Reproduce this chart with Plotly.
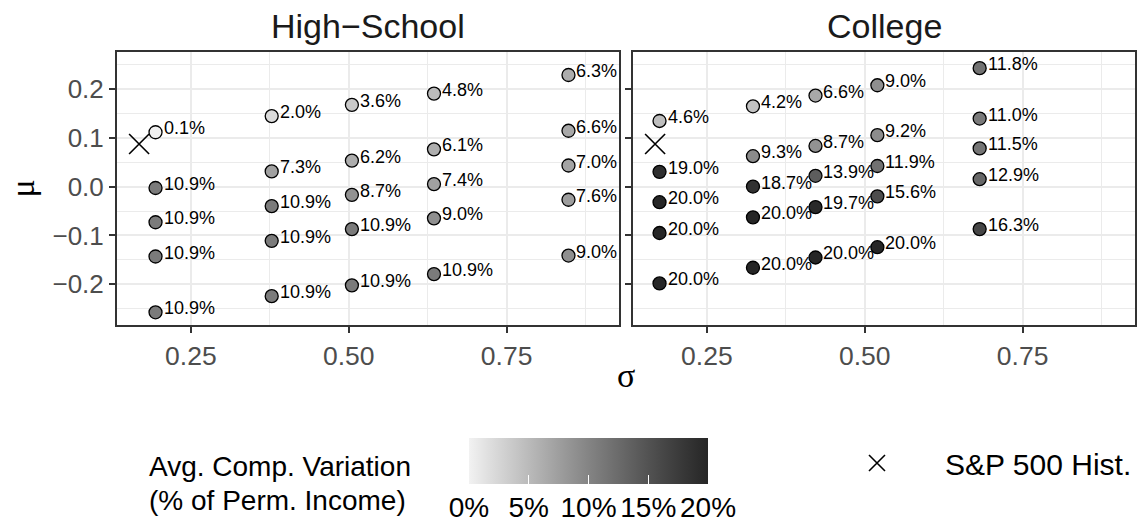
import plotly.graph_objects as go

# ---------------- data ----------------
hs_sigma = [0.194, 0.194, 0.194, 0.194, 0.194,
            0.378, 0.378, 0.378, 0.378, 0.378,
            0.505, 0.505, 0.505, 0.505, 0.505,
            0.635, 0.635, 0.635, 0.635, 0.635,
            0.848, 0.848, 0.848, 0.848, 0.848]
hs_mu = [0.111, -0.003, -0.073, -0.143, -0.257,
         0.144, 0.031, -0.040, -0.111, -0.224,
         0.167, 0.053, -0.017, -0.087, -0.202,
         0.190, 0.076, 0.005, -0.065, -0.179,
         0.228, 0.114, 0.043, -0.027, -0.141]
hs_var = [0.1, 10.9, 10.9, 10.9, 10.9,
          2.0, 7.3, 10.9, 10.9, 10.9,
          3.6, 6.2, 8.7, 10.9, 10.9,
          4.8, 6.1, 7.4, 9.0, 10.9,
          6.3, 6.6, 7.0, 7.6, 9.0]

col_sigma = [0.175, 0.175, 0.175, 0.175, 0.175,
             0.323, 0.323, 0.323, 0.323, 0.323,
             0.422, 0.422, 0.422, 0.422, 0.422,
             0.520, 0.520, 0.520, 0.520, 0.520,
             0.682, 0.682, 0.682, 0.682, 0.682]
col_mu = [0.134, 0.030, -0.032, -0.095, -0.198,
          0.164, 0.062, 0.000, -0.063, -0.166,
          0.186, 0.083, 0.022, -0.042, -0.145,
          0.207, 0.105, 0.042, -0.020, -0.124,
          0.242, 0.139, 0.078, 0.015, -0.087]
col_var = [4.6, 19.0, 20.0, 20.0, 20.0,
           4.2, 9.3, 18.7, 20.0, 20.0,
           6.6, 8.7, 13.9, 19.7, 20.0,
           9.0, 9.2, 11.9, 15.6, 20.0,
           11.8, 11.0, 11.5, 12.9, 16.3]

sp_sigma = [0.168]
sp_mu = [0.087]

panel_titles = ["High\u2212School", "College"]
cbar_ticks = [0, 5, 10, 15, 20]
cbar_labels = ["0%", "5%", "10%", "15%", "20%"]
x_ticks = [0.25, 0.50, 0.75]
y_ticks = [-0.2, -0.1, 0.0, 0.1, 0.2]

# ---------------- style helpers ----------------
FONT = "Liberation Sans, Arial, sans-serif"
SERIF = "Liberation Serif, DejaVu Serif, serif"
W, H = 1143, 524


def srgb_to_L(v):
    c = v / 255.0
    lin = c / 12.92 if c <= 0.04045 else ((c + 0.055) / 1.055) ** 2.4
    return 116 * lin ** (1 / 3) - 16 if lin > 0.008856 else 903.3 * lin


def L_to_hex(L):
    Y = ((L + 16) / 116) ** 3 if L > 8 else L / 903.3
    c = 12.92 * Y if Y <= 0.0031308 else 1.055 * Y ** (1 / 2.4) - 0.055
    g = max(0, min(255, round(c * 255)))
    return "#%02x%02x%02x" % (g, g, g)


L_lo, L_hi = srgb_to_L(242), srgb_to_L(38)
colorscale = [[i / 10, L_to_hex(L_lo + (L_hi - L_lo) * i / 10)] for i in range(11)]

fig = go.Figure()

panels = [(hs_sigma, hs_mu, hs_var, "x", "y", "coloraxis"),
          (col_sigma, col_mu, col_var, "x2", "y2", "coloraxis2")]
annotations = []
for idx, (sx, my, vv, xa, ya, cax) in enumerate(panels):
    fig.add_trace(go.Scatter(
        x=sx, y=my, mode="markers", xaxis=xa, yaxis=ya, showlegend=False,
        marker=dict(size=13, color=vv, coloraxis=cax,
                    line=dict(color="black", width=1.3)),
        hoverinfo="skip"))
    fig.add_trace(go.Scatter(
        x=sp_sigma, y=sp_mu, mode="markers", xaxis=xa, yaxis=ya,
        name="S&P 500 Hist.", legendgroup="sp", showlegend=(idx == 0),
        marker=dict(symbol="x-thin", size=20, color="black",
                    line=dict(color="black", width=1.6)),
        hoverinfo="skip"))
    for x, y, v in zip(sx, my, vv):
        annotations.append(dict(
            x=x, y=y, xref=xa, yref=ya, text=f"{v:.1f}%", showarrow=False,
            xanchor="left", yanchor="middle", xshift=6, yshift=4,
            font=dict(family=FONT, size=18, color="black")))

dom_x1 = [117 / W, 619 / W]
dom_x2 = [633 / W, 1135 / W]
dom_y = [(H - 325) / H, (H - 52) / H]

# strip titles
for dom, title in zip([dom_x1, dom_x2], panel_titles):
    annotations.append(dict(
        x=(dom[0] + dom[1]) / 2, y=(H - 26) / H, xref="paper", yref="paper",
        text=title, showarrow=False, xanchor="center", yanchor="middle",
        font=dict(family=FONT, size=34, color="#1a1a1a")))

# axis titles
annotations.append(dict(x=(dom_x1[0] + dom_x2[1]) / 2, y=(H - 375) / H,
                        xref="paper", yref="paper", text="\u03c3", showarrow=False,
                        xanchor="center", yanchor="middle",
                        font=dict(family=SERIF, size=34, color="black")))
annotations.append(dict(x=22 / W, y=(dom_y[0] + dom_y[1]) / 2,
                        xref="paper", yref="paper", text="\u03bc", showarrow=False,
                        textangle=-90, xanchor="center", yanchor="middle",
                        font=dict(family=SERIF, size=34, color="black")))

# legend title (two lines)
annotations.append(dict(x=147 / W, y=(H - 466) / H, xref="paper", yref="paper",
                        text="Avg. Comp. Variation", showarrow=False,
                        xanchor="left", yanchor="middle",
                        font=dict(family=FONT, size=28, color="black")))
annotations.append(dict(x=147 / W, y=(H - 500) / H, xref="paper", yref="paper",
                        text="(% of Perm. Income)", showarrow=False,
                        xanchor="left", yanchor="middle",
                        font=dict(family=FONT, size=28, color="black")))

axis_common = dict(
    range=[0.133, 0.928], tickvals=x_ticks, tickformat=".2f",
    showgrid=True, gridcolor="#ebebeb", gridwidth=2,
    minor=dict(dtick=0.125, tick0=0, showgrid=True, gridcolor="#ebebeb", gridwidth=1),
    zeroline=False, showline=True, mirror=True, linecolor="#333333", linewidth=2,
    ticks="outside", ticklen=6, tickwidth=1.5, tickcolor="#333333",
    tickfont=dict(family=FONT, size=26.5, color="#4d4d4d"))
yaxis_common = dict(
    range=[-0.283, 0.275], tickvals=y_ticks, tickformat=".1f",
    showgrid=True, gridcolor="#ebebeb", gridwidth=2,
    minor=dict(dtick=0.05, tick0=0, showgrid=True, gridcolor="#ebebeb", gridwidth=1),
    zeroline=False, showline=True, mirror=True, linecolor="#333333", linewidth=2,
    ticks="outside", ticklen=6, tickwidth=1.5, tickcolor="#333333",
    tickfont=dict(family=FONT, size=26, color="#4d4d4d"))

cbar_common = dict(
    orientation="h", x=(469 + 708) / 2 / W, xanchor="center",
    y=(H - 438) / H, yanchor="top",
    len=239, lenmode="pixels", thickness=46, thicknessmode="pixels",
    outlinewidth=0, xpad=0, ypad=0, tickvals=cbar_ticks, tickangle=0)

fig.update_layout(
    width=W, height=H, margin=dict(l=0, r=0, t=0, b=0, autoexpand=False),
    paper_bgcolor="white", plot_bgcolor="white",
    font=dict(family=FONT),
    xaxis=dict(domain=dom_x1, anchor="y", **axis_common),
    xaxis2=dict(domain=dom_x2, anchor="y2", **axis_common),
    yaxis=dict(domain=dom_y, anchor="x", **yaxis_common),
    yaxis2=dict(domain=dom_y, anchor="x2", matches="y", showticklabels=False,
                **{k: v for k, v in yaxis_common.items() if k != "tickfont"}),
    # colour bar carrying the labels
    coloraxis=dict(
        cmin=0, cmax=20, colorscale=colorscale,
        colorbar=dict(
            ticktext=cbar_labels,
            ticks="outside", ticklen=0, tickcolor="rgba(0,0,0,0)",
            tickfont=dict(family=FONT, size=28, color="black"), **cbar_common)),
    # identical scale drawn on top, carrying the white tick marks
    coloraxis2=dict(
        cmin=0, cmax=20, colorscale=colorscale,
        colorbar=dict(
            showticklabels=False, ticks="inside", ticklen=9, tickwidth=1.2,
            tickcolor="white", **cbar_common)),
    legend=dict(x=809 / W, y=(H - 463) / H, xanchor="left", yanchor="middle",
                itemwidth=126, bgcolor="rgba(0,0,0,0)",
                font=dict(family=FONT, size=30, color="black")),
    annotations=annotations,
)

fig.write_html("out.html")
